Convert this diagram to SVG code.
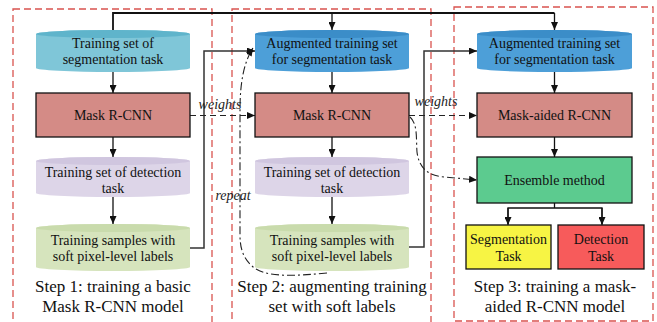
<svg xmlns="http://www.w3.org/2000/svg" width="657" height="322" viewBox="0 0 657 322">
  <style>
    .panel { fill: none; stroke: #d9534f; stroke-width: 1.3; stroke-dasharray: 7 4; }
    .lbl { font-family: "Liberation Serif", "Times New Roman", serif; font-size: 14px; fill: #111; text-anchor: middle; }
    .cap { font-family: "Liberation Serif", "Times New Roman", serif; font-size: 17px; fill: #111; text-anchor: middle; }
    .it { font-family: "Liberation Serif", "Times New Roman", serif; font-size: 14px; font-style: italic; fill: #222; text-anchor: middle; }
    .box { stroke: #111; stroke-width: 1.3; }
    .wire { fill: none; stroke: #111; stroke-width: 1.3; }
    .feed { fill: none; stroke: #333; stroke-width: 1.5; }
    .dash { fill: none; stroke: #222; stroke-width: 1.1; stroke-dasharray: 6 4; }
    .dashdot { fill: none; stroke: #222; stroke-width: 1.1; stroke-dasharray: 8 3 2 3; }
  </style>
  <defs>
    <marker id="ah" viewBox="0 0 8 7" refX="8" refY="3.5" markerWidth="8" markerHeight="7" orient="auto" markerUnits="userSpaceOnUse">
      <path d="M0,0 L8,3.5 L0,7 Z" fill="#111"/>
    </marker>
  </defs>

  <!-- stage frames -->
  <g id="panels">
    <rect class="panel" x="13" y="9" width="199" height="330"/>
    <rect class="panel" x="232" y="9" width="199" height="330"/>
    <rect class="panel" x="454" y="7" width="199" height="314"/>
  </g>

  <!-- connectors -->
  <g id="connectors">
    <!-- shared segmentation set feeding the later stages -->
    <path class="wire" style="stroke-width:1.8" d="M113,31 L113,13 L554.5,13"/>
    <path class="wire" d="M332,13 L332,30" marker-end="url(#ah)"/>
    <path class="wire" d="M554.5,13 L554.5,30" marker-end="url(#ah)"/>

    <!-- stage 1 vertical flow -->
    <path class="wire" d="M113,72 L113,93" marker-end="url(#ah)"/>
    <path class="wire" d="M113,137 L113,157" marker-end="url(#ah)"/>
    <path class="wire" d="M113,197 L113,224" marker-end="url(#ah)"/>

    <!-- stage 2 vertical flow -->
    <path class="wire" d="M332,72 L332,93" marker-end="url(#ah)"/>
    <path class="wire" d="M332,137 L332,157" marker-end="url(#ah)"/>
    <path class="wire" d="M332,197 L332,224" marker-end="url(#ah)"/>

    <!-- stage 3 vertical flow -->
    <path class="wire" d="M554.5,72 L554.5,93" marker-end="url(#ah)"/>
    <path class="wire" d="M554.5,137 L554.5,157" marker-end="url(#ah)"/>
    <path class="wire" d="M554.5,203 L554.5,208 M508,224 L508,208 L602,208 L602,224"/>
    <path class="wire" d="M508,208 L508,225" marker-end="url(#ah)"/>
    <path class="wire" d="M602,208 L602,225" marker-end="url(#ah)"/>

    <!-- soft-label samples into augmented sets -->
    <path class="feed" d="M190,248 L204,248 L204,51 L255,51" marker-end="url(#ah)"/>
    <path class="feed" d="M409,247 L424,247 L424,51 L477,51" marker-end="url(#ah)"/>

    <!-- weight transfer -->
    <path class="dash" d="M190,115.5 L255,115.5" marker-end="url(#ah)"/>
    <path class="dash" d="M409,115.5 L477,115.5" marker-end="url(#ah)"/>
    <text class="it" x="220" y="109">weights</text>
    <text class="it" x="436" y="106">weights</text>

    <!-- model to ensemble -->
    <path class="dashdot" d="M410,117 C418,124 416,140 417,152 C419,168 428,176 445,177 L477,180" marker-end="url(#ah)"/>

    <!-- repeat loop -->
    <path class="dashdot" d="M327,273 C295,276 265,278 252,266 C243,258 240,248 240,235 L240,110 C240,82 244,62 253,48" marker-end="url(#ah)"/>
    <text class="it" x="233" y="200">repeat</text>
  </g>

  <!-- stage 1 -->
  <g id="seg-set-1">
    <path d="M36,34 L36,68 A77,4 0 0 0 190,68 L190,34 A77,4 0 0 0 36,34 Z" fill="#7fc6d8"/>
    <ellipse cx="113" cy="34" rx="77" ry="4" fill="#5fb4cb"/>
    <text class="lbl" x="113" y="48">Training set of</text>
    <text class="lbl" x="113" y="64">segmentation task</text>
  </g>
  <g id="mask-rcnn-1">
    <rect class="box" x="36" y="93" width="154" height="44" fill="#d48b86"/>
    <text class="lbl" x="113" y="120">Mask R-CNN</text>
  </g>
  <g id="det-set-1">
    <path d="M36,161 L36,193 A77,4 0 0 0 190,193 L190,161 A77,4 0 0 0 36,161 Z" fill="#ddd5e8"/>
    <ellipse cx="113" cy="161" rx="77" ry="4" fill="#d0c6df"/>
    <text class="lbl" x="113" y="177">Training set of detection</text>
    <text class="lbl" x="113" y="193">task</text>
  </g>
  <g id="soft-samples-1">
    <path d="M36,228 L36,267 A77,4 0 0 0 190,267 L190,228 A77,4 0 0 0 36,228 Z" fill="#d6e4bd"/>
    <ellipse cx="113" cy="228" rx="77" ry="4" fill="#c9dbac"/>
    <text class="lbl" x="113" y="245">Training samples with</text>
    <text class="lbl" x="113" y="261">soft pixel-level labels</text>
  </g>
  <g id="caption-1">
    <text class="cap" x="113" y="292">Step 1: training a basic</text>
    <text class="cap" x="113" y="312">Mask R-CNN model</text>
  </g>

  <!-- stage 2 -->
  <g id="aug-set-2">
    <path d="M255,34 L255,68 A77,4 0 0 0 409,68 L409,34 A77,4 0 0 0 255,34 Z" fill="#4d9fd8"/>
    <ellipse cx="332" cy="34" rx="77" ry="4" fill="#3b8dc8"/>
    <text class="lbl" x="332" y="48">Augmented training set</text>
    <text class="lbl" x="332" y="64">for segmentation task</text>
  </g>
  <g id="mask-rcnn-2">
    <rect class="box" x="255" y="93" width="154" height="44" fill="#d48b86"/>
    <text class="lbl" x="332" y="120">Mask R-CNN</text>
  </g>
  <g id="det-set-2">
    <path d="M255,161 L255,193 A77,4 0 0 0 409,193 L409,161 A77,4 0 0 0 255,161 Z" fill="#ddd5e8"/>
    <ellipse cx="332" cy="161" rx="77" ry="4" fill="#d0c6df"/>
    <text class="lbl" x="332" y="177">Training set of detection</text>
    <text class="lbl" x="332" y="193">task</text>
  </g>
  <g id="soft-samples-2">
    <path d="M255,228 L255,267 A77,4 0 0 0 409,267 L409,228 A77,4 0 0 0 255,228 Z" fill="#d6e4bd"/>
    <ellipse cx="332" cy="228" rx="77" ry="4" fill="#c9dbac"/>
    <text class="lbl" x="332" y="245">Training samples with</text>
    <text class="lbl" x="332" y="261">soft pixel-level labels</text>
  </g>
  <g id="caption-2">
    <text class="cap" x="332" y="292">Step 2: augmenting training</text>
    <text class="cap" x="332" y="312">set with soft labels</text>
  </g>

  <!-- stage 3 -->
  <g id="aug-set-3">
    <path d="M477,34 L477,68 A77.5,4 0 0 0 632,68 L632,34 A77.5,4 0 0 0 477,34 Z" fill="#4d9fd8"/>
    <ellipse cx="554.5" cy="34" rx="77.5" ry="4" fill="#3b8dc8"/>
    <text class="lbl" x="554.5" y="48">Augmented training set</text>
    <text class="lbl" x="554.5" y="64">for segmentation task</text>
  </g>
  <g id="mask-aided-rcnn">
    <rect class="box" x="477" y="93" width="155" height="44" fill="#d48b86"/>
    <text class="lbl" x="554.5" y="120">Mask-aided R-CNN</text>
  </g>
  <g id="ensemble">
    <rect class="box" x="477" y="157" width="155" height="46" fill="#5ccb8f"/>
    <text class="lbl" x="554.5" y="185">Ensemble method</text>
  </g>
  <g id="segmentation-task">
    <rect class="box" x="466" y="225" width="85" height="44" fill="#f7f444"/>
    <text class="lbl" x="508.5" y="244">Segmentation</text>
    <text class="lbl" x="508.5" y="261">Task</text>
  </g>
  <g id="detection-task">
    <rect class="box" x="558" y="225" width="86" height="44" fill="#f75b5b"/>
    <text class="lbl" x="601" y="244">Detection</text>
    <text class="lbl" x="601" y="261">Task</text>
  </g>
  <g id="caption-3">
    <text class="cap" x="555" y="292">Step 3: training a mask-</text>
    <text class="cap" x="555" y="312">aided R-CNN model</text>
  </g>
</svg>
